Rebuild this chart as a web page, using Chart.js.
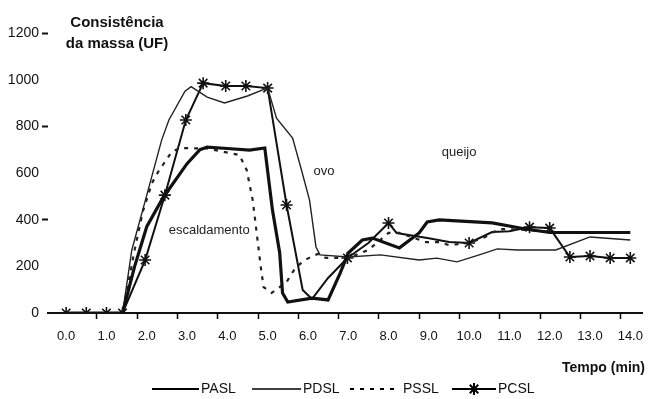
<!DOCTYPE html>
<html>
<head>
<meta charset="utf-8">
<script src="https://cdn.jsdelivr.net/npm/chart.js@4.4.0/dist/chart.umd.min.js"></script>
<style>
  html, body { margin: 0; padding: 0; background: #fff; }
  #wrap { width: 650px; height: 399px; }
</style>
</head>
<body>
<div id="wrap"><canvas id="chart" width="650" height="399"></canvas></div>
<script>
// ---- dados ----
const tempoTicks = [0, 1, 2, 3, 4, 5, 6, 7, 8, 9, 10, 11, 12, 13, 14];
const ufTicks = [0, 200, 400, 600, 800, 1000, 1200];

// PASL (linha grossa)
const paslT = [0, 0.5, 1.0, 1.4, 1.7, 2.0, 2.4, 3.0, 3.32, 3.5, 4.0, 4.55, 4.93, 5.12, 5.3, 5.37, 5.5, 6.1, 6.5, 6.8, 7.0, 7.35, 7.6, 8.27, 8.76, 8.96, 9.26, 10.57, 11.4, 12.0, 13.0, 14.0];
const paslV = [0, 0, 0, 0, 200, 370, 493, 640, 700, 711, 705, 698, 707, 441, 257, 86, 47, 64, 56, 171, 257, 313, 321, 279, 343, 390, 399, 386, 360, 345, 345, 345];

// PDSL (linha fina)
const pdslT = [0, 0.5, 1.0, 1.4, 1.63, 1.9, 2.37, 2.55, 2.95, 3.1, 3.5, 3.93, 4.5, 5.0, 5.22, 5.62, 5.84, 6.04, 6.2, 6.3, 7.0, 7.8, 8.76, 9.2, 9.7, 10.25, 10.7, 11.2, 12.15, 13.0, 14.0];
const pdslV = [0, 0, 0, 0, 270, 441, 741, 827, 951, 970, 925, 900, 930, 965, 835, 750, 613, 484, 283, 249, 240, 249, 227, 235, 219, 249, 275, 270, 270, 326, 313];

// PSSL (tracejada)
const psslT = [0, 0.5, 1.0, 1.4, 1.7, 1.9, 2.13, 2.28, 2.62, 2.82, 3.5, 4.3, 4.48, 4.63, 4.83, 4.9, 5.1, 5.47, 5.7, 5.97, 6.24, 6.45, 7.0, 7.5, 8.0, 8.27, 8.56, 8.93, 9.26, 9.5, 10.0, 10.4, 10.74, 11.5, 12.0, 13.0, 14.0];
const psslV = [0, 0, 0, 0, 270, 433, 557, 604, 690, 707, 705, 677, 613, 484, 197, 111, 86, 133, 197, 231, 253, 236, 236, 270, 343, 343, 326, 304, 304, 291, 300, 326, 360, 356, 348, 345, 345];

// PCSL (com asteriscos)
const pcslT = [0, 0.5, 1.0, 1.4, 1.96, 2.45, 2.97, 3.4, 3.96, 4.46, 5.0, 5.47, 5.87, 6.1, 6.5, 6.98, 7.5, 8.0, 8.2, 9.0, 9.5, 10.0, 10.57, 11.0, 11.5, 12.0, 12.5, 13.0, 13.5, 14.0];
const pcslV = [0, 0, 0, 0, 227, 505, 827, 985, 973, 973, 964, 463, 99, 60, 150, 236, 300, 386, 343, 320, 304, 300, 347, 350, 368, 364, 240, 244, 236, 236];
const pcslMarks = [1, 1, 1, 1, 1, 1, 1, 1, 1, 1, 1, 1, 0, 0, 0, 1, 0, 1, 0, 0, 0, 1, 0, 0, 1, 1, 1, 1, 1, 1];

const toPts = (ts, vs) => ts.map((t, i) => ({ x: t, y: vs[i] }));

const FONT = "'Liberation Sans', Arial, sans-serif";

// marcas do eixo x (deslocadas como no original) + textos
const extras = {
  id: "extras",
  afterDraw(chart) {
    const { ctx, scales: { x, y } } = chart;
    ctx.save();
    ctx.strokeStyle = "#000";
    ctx.lineWidth = 1.5;
    for (let k = 0; k < 14; k++) {
      const px = Math.round(x.getPixelForValue(k + 0.75)) + 0.5;
      ctx.beginPath();
      ctx.moveTo(px, y.bottom);
      ctx.lineTo(px, y.bottom + 6);
      ctx.stroke();
    }

    ctx.fillStyle = "#222";
    ctx.font = "13px " + FONT;
    ctx.textAlign = "center";
    ctx.textBaseline = "middle";
    ctx.fillText("escaldamento", x.getPixelForValue(3.55), y.getPixelForValue(355));
    ctx.fillText("ovo", x.getPixelForValue(6.4), y.getPixelForValue(607));
    ctx.fillText("queijo", x.getPixelForValue(9.75), y.getPixelForValue(690));

    ctx.fillStyle = "#111";
    ctx.font = "bold 15px " + FONT;
    ctx.fillText("Consistência", 117, 23);
    ctx.fillText("da massa (UF)", 117, 44);
    ctx.textAlign = "right";
    ctx.font = "bold 14px " + FONT;
    ctx.fillText("Tempo (min)", 645, 368);

    // legenda
    const ly = 389;
    ctx.textAlign = "left";
    ctx.font = "14px " + FONT;
    ctx.fillStyle = "#111";
    const seg = (x1, x2, w, dash) => {
      ctx.beginPath();
      ctx.setLineDash(dash || []);
      ctx.lineWidth = w;
      ctx.moveTo(x1, ly);
      ctx.lineTo(x2, ly);
      ctx.stroke();
      ctx.setLineDash([]);
    };
    seg(152, 199, 2);
    ctx.fillText("PASL", 201, ly);
    seg(252, 301, 1.5);
    ctx.fillText("PDSL", 303, ly);
    seg(350, 400, 2, [4, 6]);
    ctx.fillText("PSSL", 403, ly);
    seg(452, 496, 2);
    // asterisco
    ctx.lineWidth = 2;
    for (let a = 0; a < 4; a++) {
      const ang = a * Math.PI / 4;
      ctx.beginPath();
      ctx.moveTo(474 - 6 * Math.cos(ang), ly - 6 * Math.sin(ang));
      ctx.lineTo(474 + 6 * Math.cos(ang), ly + 6 * Math.sin(ang));
      ctx.stroke();
    }
    ctx.fillText("PCSL", 498, ly);
    ctx.restore();
  }
};

new Chart(document.getElementById("chart"), {
  type: "line",
  data: {
    datasets: [
      {
        label: "PASL",
        data: toPts(paslT, paslV),
        borderColor: "#111",
        borderWidth: 3.2,
        pointRadius: 0,
        tension: 0
      },
      {
        label: "PDSL",
        data: toPts(pdslT, pdslV),
        borderColor: "#222",
        borderWidth: 1.4,
        pointRadius: 0,
        tension: 0
      },
      {
        label: "PSSL",
        data: toPts(psslT, psslV),
        borderColor: "#222",
        borderWidth: 2.2,
        borderDash: [4, 6],
        pointRadius: 0,
        tension: 0
      },
      {
        label: "PCSL",
        data: toPts(pcslT, pcslV),
        borderColor: "#111",
        borderWidth: 2,
        pointStyle: "star",
        pointRadius: pcslMarks.map(m => m ? 6 : 0),
        pointBorderWidth: 1.6,
        pointBorderColor: "#111",
        tension: 0
      }
    ]
  },
  options: {
    responsive: false,
    animation: false,
    parsing: true,
    layout: { padding: { top: 33, right: 7, left: 0, bottom: 0 } },
    plugins: {
      legend: { display: false },
      tooltip: { enabled: false }
    },
    scales: {
      x: {
        type: "linear",
        min: -0.45,
        max: 14.3,
        afterBuildTicks: s => { s.ticks = tempoTicks.map(v => ({ value: v })); },
        afterFit: s => { s.height = 86; s.paddingLeft = 0; s.paddingRight = 0; },
        ticks: {
          callback: v => Number(v).toFixed(1),
          font: { family: FONT, size: 13 },
          color: "#111",
          padding: 16,
          maxRotation: 0,
          autoSkip: false
        },
        grid: { drawOnChartArea: false, drawTicks: false },
        border: { display: true, color: "#111", width: 2 }
      },
      y: {
        min: 0,
        max: 1200,
        afterBuildTicks: s => { s.ticks = ufTicks.map(v => ({ value: v })); },
        afterFit: s => { s.width = 48; s.paddingTop = 0; s.paddingBottom = 0; },
        ticks: {
          callback: v => String(v),
          font: { family: FONT, size: 14 },
          color: "#111",
          padding: 3
        },
        grid: {
          drawOnChartArea: false,
          tickLength: 6,
          tickWidth: 2,
          tickColor: c => ([1200, 800, 400].includes(c.tick && c.tick.value) ? "#111" : "rgba(0,0,0,0)")
        },
        border: { display: false }
      }
    }
  },
  plugins: [extras]
});
</script>
</body>
</html>
